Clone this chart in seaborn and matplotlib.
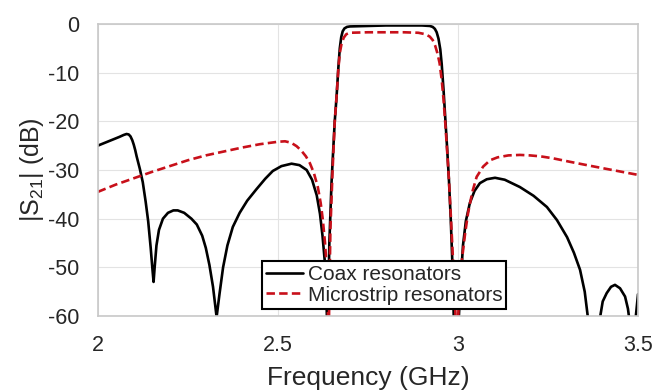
import matplotlib
matplotlib.use("Agg")
import matplotlib.pyplot as plt
import seaborn as sns
import pandas as pd

coax_freq = [2.000, 2.020, 2.040, 2.060, 2.072, 2.080, 2.086, 2.091, 2.096, 2.100,
             2.104, 2.108, 2.117, 2.125, 2.133,
             2.140, 2.147, 2.152, 2.155, 2.158, 2.163, 2.170, 2.181, 2.195, 2.210,
             2.222, 2.240, 2.260, 2.275, 2.290, 2.300, 2.310, 2.320, 2.330, 2.338,
             2.348, 2.360, 2.375, 2.394, 2.415, 2.440, 2.465, 2.486, 2.510, 2.538,
             2.560, 2.580, 2.595, 2.608, 2.617, 2.624, 2.630, 2.634, 2.638, 2.643,
             2.649, 2.654, 2.658, 2.663, 2.668, 2.672, 2.676, 2.680, 2.685, 2.692, 2.700,
             2.750, 2.800, 2.850, 2.900, 2.922, 2.930, 2.936, 2.941, 2.946, 2.951, 2.955,
             2.960, 2.965, 2.970, 2.975, 2.980, 2.985, 2.990, 3.000, 3.006, 3.014,
             3.022, 3.033, 3.046, 3.061, 3.080, 3.103, 3.130, 3.172, 3.210, 3.247,
             3.275, 3.303, 3.322, 3.339, 3.352, 3.362, 3.370, 3.385, 3.393, 3.402,
             3.413, 3.425, 3.436, 3.450, 3.464, 3.472, 3.480, 3.490, 3.496, 3.500]
coax_s21 = [-25.0, -24.4, -23.8, -23.2, -22.8, -22.6, -22.7, -23.1, -23.9, -24.8,
            -25.9, -27.2, -29.8, -32.5, -36.5,
            -40.5, -46.0, -50.5, -53.0, -50.0, -45.5, -42.3, -40.0, -38.8, -38.3,
            -38.3, -38.8, -40.0, -41.2, -43.5, -46.0, -49.5, -54.0, -60.2, -55.5,
            -50.0, -45.5, -41.7, -38.8, -36.3, -34.0, -31.8, -30.2, -29.2, -28.7,
            -29.0, -30.0, -32.0, -35.2, -39.0, -43.5, -48.5, -54.0, -65.0, -45.0,
            -32.7, -25.5, -20.0, -15.0, -9.0, -5.0, -2.7, -1.5, -0.9, -0.6, -0.5,
            -0.4, -0.3, -0.3, -0.3, -0.4, -0.6, -1.0, -1.7, -3.0, -5.2, -8.3,
            -13.5, -19.5, -25.5, -32.0, -40.0, -50.0, -65.0, -64.0, -55.0, -45.5,
            -40.5, -36.8, -34.3, -32.7, -31.9, -31.6, -32.0, -33.5, -35.3, -37.6,
            -40.3, -43.8, -47.0, -50.5, -55.0, -61.0, -66.0, -66.0, -61.0, -57.0,
            -55.3, -54.0, -53.6, -54.3, -56.0, -58.5, -63.0, -63.0, -58.5, -55.5]

micro_freq = [2.000, 2.050, 2.100, 2.150, 2.200, 2.250, 2.300, 2.350, 2.400, 2.450,
              2.500, 2.520, 2.537, 2.552, 2.565, 2.578, 2.589, 2.600, 2.611, 2.619, 2.625,
              2.631, 2.636, 2.641, 2.646, 2.652, 2.658, 2.663, 2.668, 2.672, 2.677,
              2.683, 2.690, 2.700, 2.750, 2.800, 2.850, 2.890, 2.910, 2.922, 2.930,
              2.937, 2.943, 2.949, 2.955, 2.960, 2.965, 2.970, 2.975, 2.980, 2.986,
              2.991, 2.997, 3.004, 3.011, 3.020, 3.028, 3.040, 3.052, 3.070, 3.089,
              3.110, 3.140, 3.172, 3.200, 3.230, 3.264, 3.310, 3.358, 3.400, 3.450,
              3.500]
micro_s21 = [-34.5, -33.0, -31.7, -30.4, -29.2, -28.0, -27.0, -26.2, -25.4, -24.7,
             -24.2, -24.1, -24.4, -25.1, -26.0, -27.2, -28.6, -30.6, -33.5, -36.8, -40.3,
             -45.0, -50.5, -65.0, -42.0, -30.0, -20.0, -15.0, -9.2, -6.0, -4.0,
             -2.8, -2.1, -1.8, -1.7, -1.7, -1.7, -1.8, -2.1, -2.6, -3.3,
             -4.5, -6.0, -8.0, -11.5, -15.5, -20.5, -26.0, -32.0, -39.0, -48.0,
             -56.0, -66.0, -55.0, -48.5, -43.0, -38.9, -34.5, -31.4, -29.3, -28.0,
             -27.4, -27.0, -26.9, -27.0, -27.2, -27.6, -28.3, -29.0, -29.6, -30.3,
             -31.0]

series_names = ["Coax resonators", "Microstrip resonators"]
x_ticks = [2, 2.5, 3, 3.5]
x_tick_labels = ["2", "2.5", "3", "3.5"]
y_ticks = [-60, -50, -40, -30, -20, -10, 0]

df_coax = pd.DataFrame({"f": coax_freq, "s21": coax_s21, "series": series_names[0]})
df_micro = pd.DataFrame({"f": micro_freq, "s21": micro_s21, "series": series_names[1]})

sns.set_theme(style="whitegrid")
plt.rcParams["font.family"] = ["Liberation Sans", "DejaVu Sans"]
plt.rcParams["axes.unicode_minus"] = False

fig = plt.figure(figsize=(6.56, 3.91), dpi=100)
ax = fig.add_axes([0.149, 0.1918, 0.8236, 0.7468])

sns.lineplot(data=df_coax, x="f", y="s21", color="black", linewidth=1.9,
             label=series_names[0], ax=ax, estimator=None, sort=False)
sns.lineplot(data=df_micro, x="f", y="s21", color="#C8101A", linewidth=1.9,
             label=series_names[1], ax=ax, estimator=None, sort=False)
ax.lines[1].set_dashes([3.2, 1.6])

ax.set_xlim(2, 3.5)
ax.set_ylim(-60, 0)
ax.set_xticks(x_ticks)
ax.set_xticklabels(x_tick_labels)
ax.set_yticks(y_ticks)
ax.grid(True, color="#E3E3E3", linewidth=0.8)
for s in ax.spines.values():
    s.set_color("#C8C8C8")
    s.set_linewidth(1.2)
ax.tick_params(axis="both", length=0, labelsize=15.5, colors="#262626")
ax.tick_params(axis="y", pad=13)
ax.tick_params(axis="x", pad=14)
ax.set_xlabel("Frequency (GHz)", fontsize=19, color="#262626", labelpad=7)
ax.set_ylabel(r"|S$_{\mathregular{21}}$| (dB)", fontsize=18, color="#262626", labelpad=2)

leg = ax.legend(loc="lower center", bbox_to_anchor=(0.53, 0.025), fontsize=15,
                frameon=True, fancybox=False, framealpha=1, edgecolor="black",
                handlelength=1.8, handletextpad=0.2, labelspacing=0.05,
                borderpad=0.2, borderaxespad=0)
leg.get_frame().set_linewidth(1.5)

fig.savefig("out.png", dpi=100)
